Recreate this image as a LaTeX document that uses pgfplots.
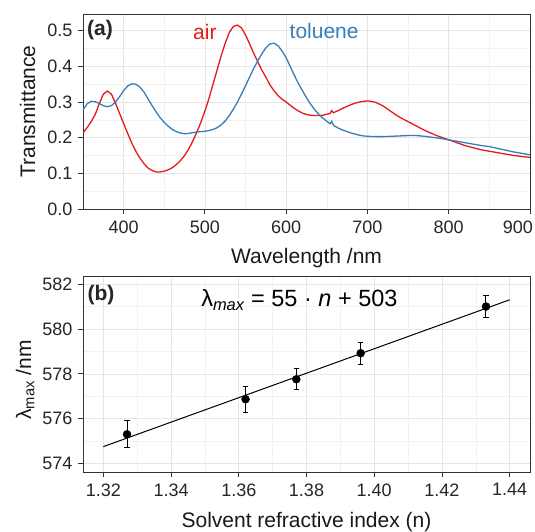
\documentclass[border=0pt]{standalone}
\usepackage{fontspec}
\setmainfont{Liberation Sans}
\usepackage{pgfplots}
\pgfplotsset{compat=1.18}
\definecolor{airred}{HTML}{E41A1C}
\definecolor{tolblue}{HTML}{377EB8}
\definecolor{frame}{HTML}{333333}
\newcommand{\tickfont}{\fontsize{18}{20}\selectfont}
\newcommand{\labfont}{\fontsize{21}{24}\selectfont}
\newcommand{\annfont}{\fontsize{21}{24}\selectfont}
\newcommand{\eqfont}{\fontsize{23.5}{26}\selectfont}
\pgfplotsset{
  every axis/.append style={
    scale only axis, width=447pt,
    axis line style={draw=frame, line width=0.9pt},
    tick align=outside, tick pos=left,
    major tick length=5pt, minor tick length=0pt,
    every tick/.style={frame, line width=0.9pt},
    grid=both,
    major grid style={draw=black!10, line width=0.7pt},
    minor grid style={draw=black!5, line width=0.6pt},
    /pgf/number format/assume math mode=true,
    ticklabel style={font=\tickfont, text=black!85},
    xticklabel style={yshift=-3pt},
    yticklabel style={xshift=-2pt},
    label style={font=\labfont, text=black!90},
    clip=true,
  }
}
\begin{document}
\begin{tikzpicture}
\begin{axis}[at={(83pt,323pt)}, anchor=south west, height=195pt,
  xmin=350, xmax=900, ymin=0, ymax=0.547,
  xtick={400,500,600,700,800,900}, minor x tick num=1,
  xticklabels={400,500,600,700,800,\hspace*{-24pt}900},
  ytick={0,0.1,0.2,0.3,0.4,0.5}, minor y tick num=1,
  yticklabel style={/pgf/number format/.cd, fixed, fixed zerofill, precision=1},
  xlabel={Wavelength /nm}, ylabel={Transmittance},
  xlabel style={at={(axis description cs:0.5,-0.277)}, anchor=base},
  ylabel style={at={(axis description cs:-0.107,0.5)}, anchor=base},
]
\addplot[airred, line width=1.3pt] coordinates {
(350,0.213) (355,0.228) (360,0.245) (365,0.265) (370,0.295) (375,0.322) (380,0.331)
(385,0.322) (390,0.297) (395,0.268) (400,0.240) (405,0.212) (410,0.185) (415,0.162)
(420,0.143) (425,0.127) (430,0.115) (435,0.108) (440,0.104) (445,0.104) (450,0.106)
(455,0.110) (460,0.116) (465,0.125) (470,0.136) (475,0.150) (480,0.168) (485,0.190)
(490,0.215) (495,0.243) (500,0.275) (505,0.310) (510,0.350) (515,0.390) (520,0.430)
(525,0.465) (530,0.495) (535,0.512) (540,0.516) (545,0.508) (550,0.488) (555,0.463)
(560,0.437) (565,0.413) (570,0.390) (575,0.370) (580,0.348) (585,0.332) (590,0.318)
(595,0.308) (600,0.300) (605,0.291) (610,0.282) (615,0.275) (620,0.269) (625,0.265)
(630,0.263) (635,0.262) (640,0.262) (645,0.263) (650,0.266) (654,0.268) (656,0.276)
(658,0.270) (660,0.272) (665,0.277) (670,0.283) (675,0.288) (680,0.293) (685,0.297)
(690,0.300) (695,0.302) (700,0.303) (705,0.302) (710,0.299) (715,0.294) (720,0.288)
(725,0.280) (730,0.272) (735,0.264) (740,0.257) (745,0.251) (750,0.245) (755,0.239)
(760,0.233) (765,0.227) (770,0.221) (775,0.216) (780,0.211) (785,0.206) (790,0.202)
(795,0.198) (800,0.194) (805,0.190) (810,0.186) (815,0.182) (820,0.178) (825,0.175)
(830,0.172) (835,0.169) (840,0.166) (845,0.164) (850,0.162) (855,0.160) (860,0.158)
(865,0.156) (870,0.154) (875,0.152) (880,0.150) (885,0.149) (890,0.147) (895,0.146)
(900,0.145)
};
\addplot[tolblue, line width=1.3pt] coordinates {
(350,0.278) (355,0.295) (360,0.302) (365,0.301) (370,0.296) (375,0.290) (380,0.287)
(385,0.290) (390,0.300) (395,0.315) (400,0.332) (405,0.345) (410,0.351) (415,0.350)
(420,0.342) (425,0.328) (430,0.309) (435,0.290) (440,0.272) (445,0.256) (450,0.243)
(455,0.232) (460,0.223) (465,0.217) (470,0.213) (475,0.211) (480,0.212) (485,0.214)
(490,0.216) (495,0.217) (500,0.218) (505,0.220) (510,0.223) (515,0.228) (520,0.236)
(525,0.247) (530,0.262) (535,0.280) (540,0.300) (545,0.322) (550,0.346) (555,0.370)
(560,0.394) (565,0.415) (570,0.435) (575,0.452) (580,0.463) (585,0.465) (590,0.458)
(595,0.443) (600,0.424) (605,0.400) (610,0.375) (615,0.352) (620,0.332) (625,0.312)
(630,0.294) (635,0.279) (640,0.266) (645,0.255) (650,0.246) (654,0.239) (656,0.246)
(658,0.236) (660,0.232) (665,0.226) (670,0.221) (675,0.217) (680,0.213) (685,0.210)
(690,0.207) (695,0.205) (700,0.204) (710,0.203) (720,0.203) (730,0.204) (740,0.205)
(750,0.206) (760,0.206) (770,0.204) (780,0.201) (790,0.198) (800,0.194) (810,0.190)
(820,0.186) (830,0.182) (840,0.178) (850,0.175) (860,0.170) (870,0.165) (880,0.160)
(890,0.156) (900,0.152)
};
\node[anchor=base, inner sep=0pt, text=airred, font=\annfont] at (axis cs:500,0.476) {air};
\node[anchor=base, inner sep=0pt, text=tolblue, font=\annfont] at (axis cs:646.7,0.479) {toluene};
\node[anchor=base west, inner sep=0pt, text=black!85, font=\annfont\bfseries] at (axis cs:354.9,0.488) {(a)};
\end{axis}
\begin{axis}[at={(83pt,60pt)}, anchor=south west, height=196pt,
  xmin=1.314, xmax=1.446, ymin=573.63, ymax=582.36,
  xtick={1.32,1.34,1.36,1.38,1.40,1.42,1.44}, minor x tick num=1,
  xticklabel style={/pgf/number format/.cd, fixed, fixed zerofill, precision=2},
  ytick={574,576,578,580,582}, minor y tick num=1,
  xlabel={Solvent refractive index (n)}, ylabel={λ\textsubscript{max} /nm},
  xlabel style={at={(axis description cs:0.5,-0.281)}, anchor=base},
  ylabel style={at={(axis description cs:-0.116,0.47)}, anchor=base},
]
\addplot[black, line width=1pt] coordinates {(1.32,574.76) (1.44,581.30)};
\addplot[black, only marks, mark=*, mark size=4pt,
  error bars/.cd, y dir=both, y explicit,
  error bar style={line width=1pt},
  error mark options={rotate=90, mark size=2.8pt, line width=1pt}]
  coordinates {
  (1.327,575.31) +- (0,0.60)
  (1.362,576.87) +- (0,0.57)
  (1.377,577.76) +- (0,0.47)
  (1.396,578.92) +- (0,0.48)
  (1.433,581.00) +- (0,0.50)
};
\node[anchor=base west, inner sep=0pt, text=black!85, font=\annfont\bfseries] at (axis cs:1.3153,581.29) {(b)};
\node[anchor=base, inner sep=0pt, font=\eqfont] at (axis cs:1.3779,580.99) {λ\textsubscript{\itshape max} = 55 · \textit{n} + 503};
\end{axis}
\pgfresetboundingbox
\path[use as bounding box] (0,0) rectangle (535pt,532pt);
\end{tikzpicture}
\end{document}
